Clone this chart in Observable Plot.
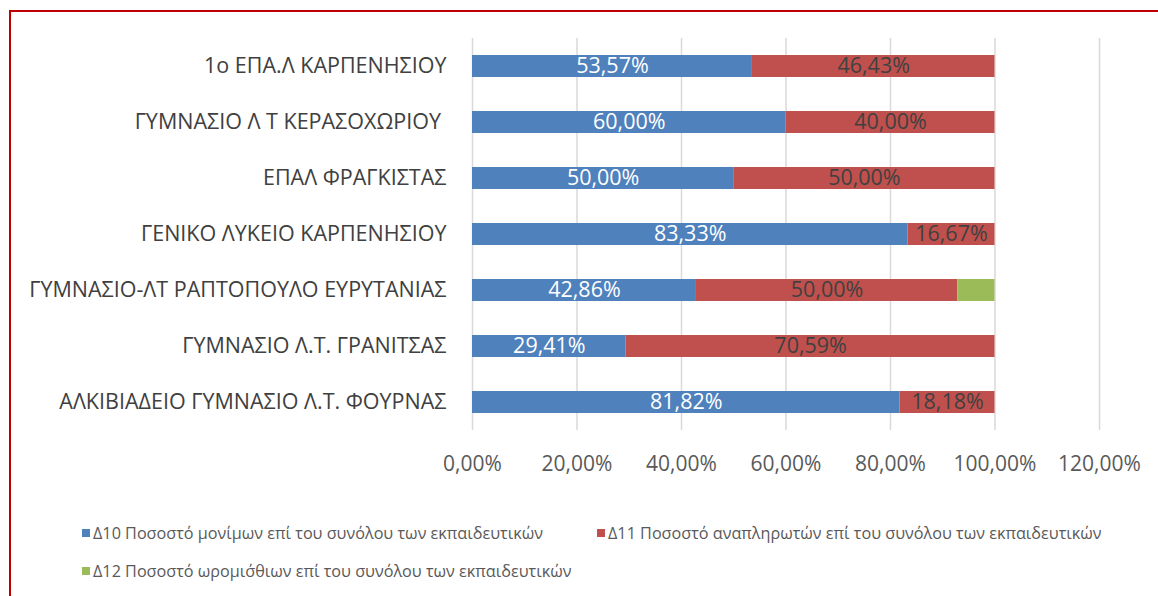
<!DOCTYPE html>
<html>
<head>
<meta charset="utf-8">
<script src="https://cdn.jsdelivr.net/npm/d3@7"></script>
<script src="https://cdn.jsdelivr.net/npm/@observablehq/plot@0.6"></script>
<style>
  html, body { margin: 0; padding: 0; background: #fff; }
  body { width: 1158px; height: 596px; position: relative; overflow: hidden; font-family: "Open Sans", sans-serif; }
  #frame { position: absolute; left: 9px; top: 10px; width: 1200px; height: 700px; border-left: 2px solid #c00000; border-top: 2px solid #c00000; box-sizing: border-box; }
  #chart { position: absolute; left: 0; top: 0; }
  #legend { position: absolute; left: 82px; top: 0; width: 1060px; font-size: 16.2px; color: #595959; }
  .item { position: absolute; white-space: nowrap; display: flex; align-items: center; height: 22px; line-height: 22px; }
  .sw { width: 8px; height: 8px; margin-right: 3px; display: inline-block; }
</style>
</head>
<body>
<div id="frame"></div>
<div id="chart"></div>
<div id="legend"></div>
<script>
const schools = [
  "1ο ΕΠΑ.Λ ΚΑΡΠΕΝΗΣΙΟΥ",
  "ΓΥΜΝΑΣΙΟ Λ Τ ΚΕΡΑΣΟΧΩΡΙΟΥ ",
  "ΕΠΑΛ ΦΡΑΓΚΙΣΤΑΣ",
  "ΓΕΝΙΚΟ ΛΥΚΕΙΟ ΚΑΡΠΕΝΗΣΙΟΥ",
  "ΓΥΜΝΑΣΙΟ-ΛΤ ΡΑΠΤΟΠΟΥΛΟ ΕΥΡΥΤΑΝΙΑΣ",
  "ΓΥΜΝΑΣΙΟ Λ.Τ. ΓΡΑΝΙΤΣΑΣ",
  "ΑΛΚΙΒΙΑΔΕΙΟ ΓΥΜΝΑΣΙΟ Λ.Τ. ΦΟΥΡΝΑΣ"
];
const seriesNames = [
  "Δ10 Ποσοστό μονίμων επί του συνόλου των εκπαιδευτικών",
  "Δ11 Ποσοστό αναπληρωτών επί του συνόλου των εκπαιδευτικών",
  "Δ12 Ποσοστό ωρομισ΄θιων επί του συνόλου των εκπαιδευτικών"
];
const permanent  = [53.57, 60.00, 50.00, 83.33, 42.86, 29.41, 81.82];
const substitute = [46.43, 40.00, 50.00, 16.67, 50.00, 70.59, 18.18];
const hourly     = [0, 0, 0, 0, 7.14, 0, 0];
const xTicks = [0, 20, 40, 60, 80, 100, 120];
const colors = ["#4f81bd", "#c0504d", "#9bbb59"];
const labelColors = ["#ffffff", "#404040", "none"];

const seriesValues = [permanent, substitute, hourly];
const rows = [];
seriesValues.forEach((vals, si) => {
  vals.forEach((v, i) => {
    rows.push({school: schools[i], series: seriesNames[si], value: v, si});
  });
});
const fmt = d => d.toFixed(2).replace(".", ",") + "%";

const chart = Plot.plot({
  width: 1158,
  height: 500,
  marginLeft: 472,
  marginRight: 59,
  marginTop: 38,
  marginBottom: 70,
  style: { fontFamily: "Open Sans, sans-serif", fontSize: "21px", color: "#595959", background: "transparent" },
  x: { domain: [0, 120], ticks: xTicks, tickFormat: fmt, tickSize: 0, tickPadding: 26, label: null },
  y: { domain: schools, paddingInner: 0.6, paddingOuter: 0.3, tickSize: 0, tickPadding: 26, label: null },
  color: { domain: seriesNames, range: colors },
  marks: [
    Plot.ruleX(xTicks, { stroke: "#d9d9d9", strokeWidth: 1.5 }),
    Plot.barX(rows, Plot.stackX({ x: "value", y: "school", fill: "series", order: seriesNames })),
    Plot.textX(rows.filter(d => d.si < 2 && d.value > 0), Plot.stackX({
      x: "value", y: "school", z: "series", order: seriesNames,
      text: d => fmt(d.value),
      fill: d => labelColors[d.si],
      fontSize: 21.5
    })),
    Plot.axisY({ tickSize: 0, tickPadding: 26, fontSize: 21.5, fill: "#404040", label: null }),
    Plot.axisX({ ticks: xTicks, tickFormat: fmt, tickSize: 0, tickPadding: 26, fontSize: 21, fill: "#595959", label: null })
  ]
});
document.getElementById("chart").appendChild(chart);

const legend = document.getElementById("legend");
const pos = [[0, 522], [515, 522], [0, 560]];
seriesNames.forEach((name, i) => {
  const it = document.createElement("div");
  it.className = "item";
  it.style.left = pos[i][0] + "px";
  it.style.top = pos[i][1] + "px";
  it.innerHTML = `<span class="sw" style="background:${colors[i]}"></span><span>${name}</span>`;
  legend.appendChild(it);
});
</script>
</body>
</html>
